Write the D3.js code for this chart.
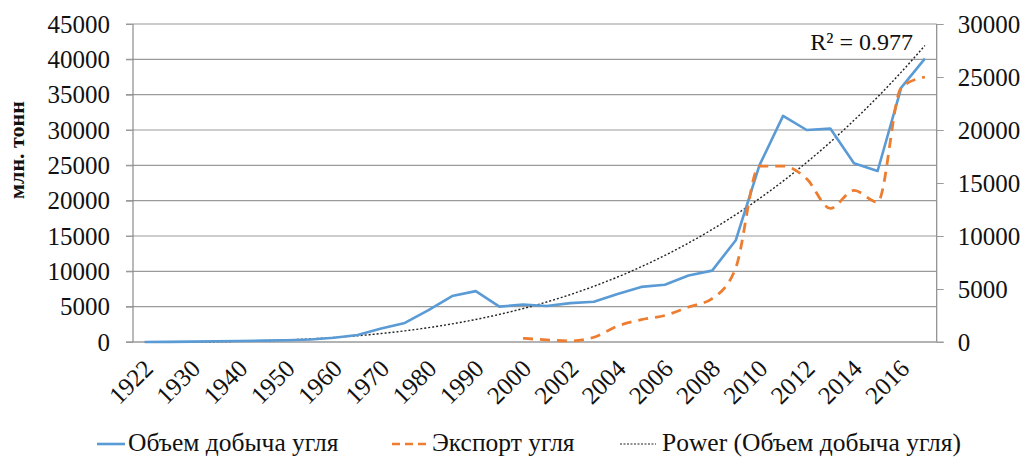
<!DOCTYPE html>
<html>
<head>
<meta charset="utf-8">
<script src="https://cdn.jsdelivr.net/npm/d3@7"></script>
<style>
  html, body { margin: 0; padding: 0; background: #fff; }
  svg { display: block; font-family: "Liberation Serif", "Times New Roman", serif; }
</style>
</head>
<body>
<svg id="chart" width="1036" height="459"></svg>
<script>
// ---- data ----
const years = ['1922','1925','1930','1935','1940','1945','1950','1955','1960','1965','1970','1975','1980','1985','1990','1995',
  '2000','2001','2002','2003','2004','2005','2006','2007','2008','2009','2010','2011','2012','2013','2014','2015','2016','2017'];
const shownLabels = ['1922','1930','1940','1950','1960','1970','1980','1990','2000','2002','2004','2006','2008','2010','2012','2014','2016'];
const production = [10, 20, 50, 100, 150, 200, 250, 350, 600, 1000, 1900, 2700, 4500, 6500, 7200, 5000,
  5300, 5100, 5500, 5700, 6800, 7800, 8100, 9400, 10100, 14400, 25000, 32000, 30000, 30200, 25300, 24200, 36000, 40100];
const exportVals = [null, null, null, null, null, null, null, null, null, null, null, null, null, null, null, null,
  350, 200, 100, 450, 1500, 2100, 2500, 3300, 4100, 7000, 16600, 16600, 15400, 12600, 14300, 13200, 24000, 25000];
const leftTicks = [0, 5000, 10000, 15000, 20000, 25000, 30000, 35000, 40000, 45000];
const rightTicks = [0, 5000, 10000, 15000, 20000, 25000, 30000];
// power trendline y = a * x^b (x = 1..n), as shown on chart
const trendA = 0.629, trendB = 3.15;
const r2Label = 'R² = 0.977';
const seriesNames = ['Объем добыча угля', 'Экспорт угля', 'Power (Объем добыча угля)'];
const yTitle = 'млн. тонн';

// ---- layout ----
const svg = d3.select('#chart');
const L = 133, R = 936.7, T = 24, B = 342;
const tickFont = 25, legFont = 25.5;
const ff = '"Liberation Serif", "Times New Roman", serif';

const x = d3.scalePoint().domain(years).range([L, R]).padding(0.5);
const xIdx = d3.scaleLinear().domain([0, years.length - 1]).range([x(years[0]), x(years[years.length - 1])]);
const yL = d3.scaleLinear().domain([0, 45000]).range([B, T]);
const yR = d3.scaleLinear().domain([0, 30000]).range([B, T]);

// gridlines
svg.append('g').selectAll('line').data(leftTicks).join('line')
  .attr('x1', L - 7).attr('x2', R)
  .attr('y1', d => yL(d)).attr('y2', d => yL(d))
  .attr('stroke', '#9a9a9a').attr('stroke-width', 1.2);

// left axis
const gL = svg.append('g').attr('transform', `translate(${L},0)`)
  .call(d3.axisLeft(yL).tickValues(leftTicks).tickSize(7).tickPadding(16).tickFormat(d3.format('d')));
gL.attr('font-family', ff);
gL.select('.domain').attr('stroke', '#8a8a8a').attr('stroke-width', 1.2).attr('d', `M0,${T}V${B}`);
gL.selectAll('.tick line').attr('stroke', '#9a9a9a');
gL.selectAll('text').attr('font-size', tickFont).attr('fill', '#111');

// right axis
const gR = svg.append('g').attr('transform', `translate(${R},0)`)
  .call(d3.axisRight(yR).tickValues(rightTicks).tickSize(7).tickPadding(14).tickFormat(d3.format('d')));
gR.attr('font-family', ff);
gR.select('.domain').attr('stroke', '#8a8a8a').attr('stroke-width', 1.2).attr('d', `M0,${T}V${B}`);
gR.selectAll('.tick line').attr('stroke', '#9a9a9a');
gR.selectAll('text').attr('font-size', tickFont).attr('fill', '#111');

// bottom axis line
svg.append('line').attr('x1', L - 7).attr('x2', R + 7).attr('y1', B).attr('y2', B)
  .attr('stroke', '#9a9a9a').attr('stroke-width', 1.2);

// x labels
const gX = svg.append('g').attr('transform', `translate(0,${B})`)
  .call(d3.axisBottom(x).tickValues(shownLabels).tickSize(0).tickPadding(0));
gX.attr('font-family', ff);
gX.select('.domain').remove();
gX.selectAll('text')
  .attr('font-size', tickFont).attr('fill', '#111')
  .attr('text-anchor', 'end')
  .attr('dy', '0.35em')
  .attr('transform', 'translate(3,22) rotate(-45)');

// y title
svg.append('text').attr('transform', 'translate(24,150) rotate(-90)')
  .attr('text-anchor', 'middle').attr('font-weight', 'bold').attr('font-size', 22).attr('fill', '#111')
  .text(yTitle);

// trendline
const trendPts = d3.range(0, years.length - 1 + 0.001, 0.1).map(i => [xIdx(i), yL(trendA * Math.pow(i + 1, trendB))]);
svg.append('path').attr('d', d3.line()(trendPts))
  .attr('fill', 'none').attr('stroke', '#222').attr('stroke-width', 1.4).attr('stroke-dasharray', '2,2');

// production line
svg.append('path').datum(years.map((y, i) => [y, production[i]]))
  .attr('d', d3.line().x(d => x(d[0])).y(d => yL(d[1])))
  .attr('fill', 'none').attr('stroke', '#5B9BD5').attr('stroke-width', 2.6).attr('stroke-linejoin', 'round');

// export line
svg.append('path').datum(years.map((y, i) => [y, exportVals[i]]).filter(d => d[1] !== null))
  .attr('d', d3.line().x(d => x(d[0])).y(d => yR(d[1])).curve(d3.curveMonotoneX))
  .attr('fill', 'none').attr('stroke', '#ED7D31').attr('stroke-width', 2.8).attr('stroke-dasharray', '10,7');

// R² label
svg.append('text').attr('x', 913).attr('y', 50).attr('text-anchor', 'end')
  .attr('font-size', 24).attr('fill', '#111').text(r2Label);

// legend
const legBase = 451;
const legLineY = 444;
const leg = [
  { x0: 97, x1: 125, tx: 128, stroke: '#5B9BD5', dash: null, w: 2.6 },
  { x0: 392, x1: 428, tx: 432, stroke: '#ED7D31', dash: '8,5', w: 2.6 },
  { x0: 620, x1: 656, tx: 662, stroke: '#222', dash: '2,1.5', w: 1.2 }
];
leg.forEach((l, i) => {
  const ln = svg.append('line').attr('x1', l.x0).attr('x2', l.x1).attr('y1', legLineY).attr('y2', legLineY)
    .attr('stroke', l.stroke).attr('stroke-width', l.w);
  if (l.dash) ln.attr('stroke-dasharray', l.dash);
  svg.append('text').attr('x', l.tx).attr('y', legBase)
    .attr('font-size', legFont).attr('fill', '#111').text(seriesNames[i]);
});
</script>
</body>
</html>
